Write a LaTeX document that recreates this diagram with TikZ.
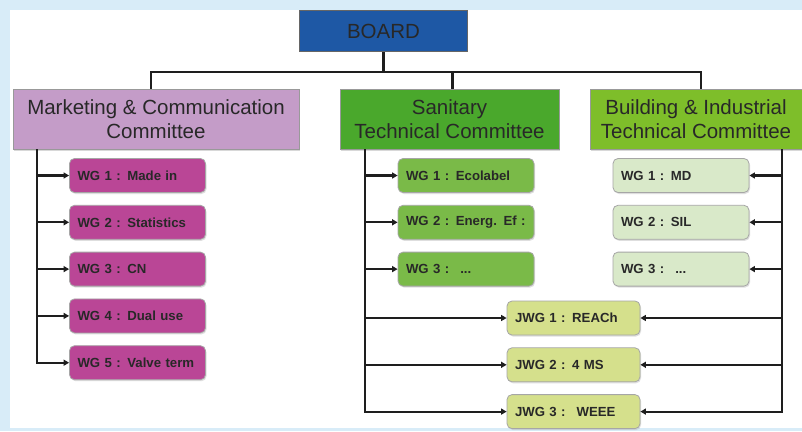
\documentclass[tikz,border=0pt]{standalone}
\usepackage{fontspec}
\setmainfont{Liberation Sans}
\usepackage{xcolor}
\usetikzlibrary{arrows.meta, positioning, shadows}
\definecolor{framebg}{RGB}{216,236,248}
\definecolor{textgray}{RGB}{40,40,40}
\definecolor{linegray}{RGB}{30,30,30}
\definecolor{boardblue}{RGB}{30,88,165}
\definecolor{mktpink}{RGB}{196,156,200}
\definecolor{sangreen}{RGB}{74,168,44}
\definecolor{buigreen}{RGB}{126,190,42}
\definecolor{mwgfill}{RGB}{186,70,150}
\definecolor{swgfill}{RGB}{122,186,72}
\definecolor{bwgfill}{RGB}{217,233,201}
\definecolor{jwgfill}{RGB}{213,224,140}
\DeclareRobustCommand\wgfont{\bfseries\fontsize{13.2}{15}\selectfont\spaceskip=2.6pt plus 1pt\relax}
\tikzset{
    board/.style={
        rectangle,
        draw=black!60,
        line width=1pt,
        fill=boardblue,
        minimum width=168pt,
        minimum height=41pt,
        text=textgray,
        font=\fontsize{20.5}{23}\selectfont
    },
    committee/.style={
        rectangle,
        draw=black!40,
        line width=1pt,
        minimum height=60pt,
        align=center,
        text=textgray,
        font=\fontsize{20.5}{23.5}\selectfont,
        drop shadow={shadow xshift=1pt, shadow yshift=-1.5pt, fill=black!30}
    },
    wg/.style={
        rectangle,
        rounded corners=5pt,
        draw=black!35,
        line width=0.8pt,
        minimum height=34pt,
        text width=120pt,
        inner xsep=8pt,
        align=left,
        text=textgray,
        font=\wgfont,
        drop shadow={shadow xshift=1pt, shadow yshift=-1.5pt, fill=black!25}
    },
    link/.style={
        draw=linegray,
        line width=2.2pt
    },
    feed/.style={
        link,
        -{Triangle[length=5.5pt,width=6pt]}
    }
}
\begin{document}
\begin{tikzpicture}[x=1pt, y=-1pt, node distance=12pt]

% Frame
\useasboundingbox (0,0) rectangle (802,431);
\fill[framebg] (0,0) rectangle (802,431);
\fill[white] (10,10) rectangle (802,428);

% Board
\node[board] (board) at (383.5,31) {BOARD};

% Committees
\node[committee, fill=mktpink, minimum width=286pt] (mkt) at (156,119) {Marketing \& Communication\\Committee};
\node[committee, fill=sangreen, minimum width=219pt] (san) at (449.5,119) {Sanitary\\Technical Committee};
\node[committee, fill=buigreen, minimum width=212pt] (bui) at (696,119) {Building \& Industrial\\Technical Committee};

% Marketing working groups
\node[wg, fill=mwgfill] (mwg1) at (137.5,175.5) {WG 1 : Made in};
\node[wg, fill=mwgfill, below=of mwg1] (mwg2) {WG 2 : Statistics};
\node[wg, fill=mwgfill, below=of mwg2] (mwg3) {WG 3 : CN};
\node[wg, fill=mwgfill, below=of mwg3] (mwg4) {WG 4 : Dual use};
\node[wg, fill=mwgfill, below=of mwg4] (mwg5) {WG 5 : Valve term};

% Sanitary working groups
\node[wg, fill=swgfill] (swg1) at (466,175.5) {WG 1 : Ecolabel};
\node[wg, fill=swgfill, below=of swg1] (swg2) {WG 2 : Energ. Ef :};
\node[wg, fill=swgfill, below=of swg2] (swg3) {WG 3 : \ ...};

% Building working groups
\node[wg, fill=bwgfill] (bwg1) at (681,175.5) {WG 1 : MD};
\node[wg, fill=bwgfill, below=of bwg1] (bwg2) {WG 2 : SIL};
\node[wg, fill=bwgfill, below=of bwg2] (bwg3) {WG 3 : \ ...};

% Joint working groups
\node[wg, fill=jwgfill, text width=117pt] (jwg1) at (573.5,318) {JWG 1 : REACh};
\node[wg, fill=jwgfill, text width=117pt, below=of jwg1] (jwg2) {JWG 2 : 4 MS};
\node[wg, fill=jwgfill, text width=117pt, below=of jwg2] (jwg3) {JWG 3 : \ WEEE};

% Board to committees
\coordinate (hub) at ([yshift=-20pt]board.south);
\draw[link] (board) -- (hub);
\draw[link] (hub) -| ([xshift=-5pt]mkt.north);
\draw[link] (hub) -| ([xshift=3pt]san.north);
\draw[link] (hub) -| ([xshift=5pt]bui.north);

% Committee buses
\coordinate (mktbus) at (37,149);
\coordinate (sanbus) at (365,149);
\coordinate (buibus) at (782,149);

\draw[feed] (mktbus) |- (mwg1);
\draw[feed] (mktbus) |- (mwg2);
\draw[feed] (mktbus) |- (mwg3);
\draw[feed] (mktbus) |- (mwg4);
\draw[feed] (mktbus) |- (mwg5);

\draw[feed] (sanbus) |- (swg1);
\draw[feed] (sanbus) |- (swg2);
\draw[feed] (sanbus) |- (swg3);
\draw[feed] (sanbus) |- (jwg1);
\draw[feed] (sanbus) |- (jwg2);
\draw[feed] (sanbus) |- (jwg3);

\draw[feed] (buibus) |- (bwg1);
\draw[feed] (buibus) |- (bwg2);
\draw[feed] (buibus) |- (bwg3);
\draw[feed] (buibus) |- (jwg1);
\draw[feed] (buibus) |- (jwg2);
\draw[feed] (buibus) |- (jwg3);

\end{tikzpicture}
\end{document}
